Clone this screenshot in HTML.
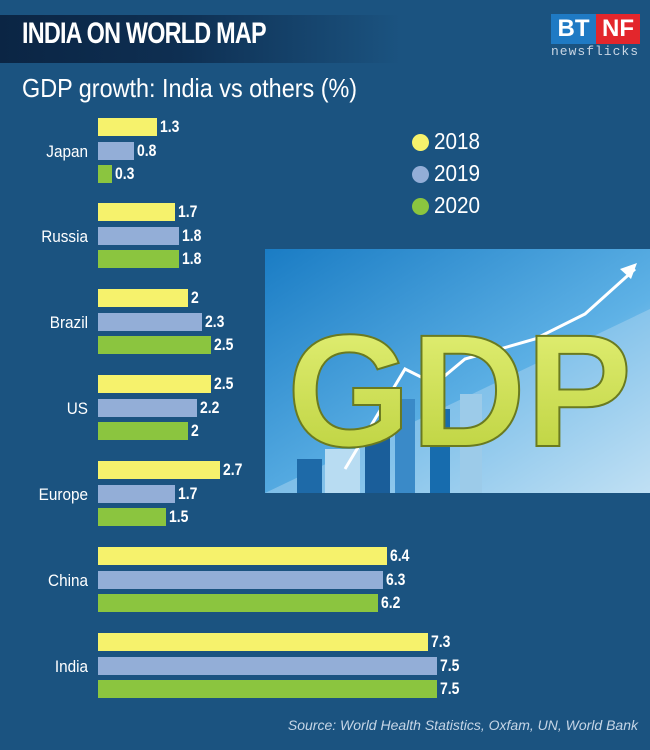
<!DOCTYPE html>
<html><head><meta charset="utf-8"><style>
body{margin:0;width:650px;height:750px;background:#1b5380;overflow:hidden;position:relative;font-family:"Liberation Sans Narrow","Liberation Sans",sans-serif;}
.abs{position:absolute}
.hdr{left:0;top:15px;width:400px;height:48px;background:linear-gradient(90deg,#0b2544 0%,#0e2f52 45%,rgba(27,83,128,0) 100%);}
.title{left:22px;top:17px;color:#fff;font-weight:bold;font-size:30px;letter-spacing:-1px;transform:scaleX(.78);transform-origin:left}
.sub{left:22px;top:73px;color:#fff;font-size:26px;transform:scaleX(.9);transform-origin:left}
.lbl{color:#fff;font-size:17px;width:80px;text-align:right;left:8px;transform:scaleX(.9);transform-origin:right}
.bar{left:98px;height:18px}
.val{color:#fff;font-weight:bold;font-size:17px;transform:scaleX(.82);transform-origin:left}
.y{background:#f6f26c}.b{background:#93aed7}.g{background:#8bc53f}
.dot{width:17px;height:17px;border-radius:50%}
.leg{color:#fff;font-size:23px;transform:scaleX(.9);transform-origin:left}
</style></head><body>
<div class="abs hdr"></div>
<div class="abs title">INDIA ON WORLD MAP</div>
<div class="abs sub">GDP growth: India vs others (%)</div>
<div class="abs" style="left:551px;top:14px;width:45px;height:30px;background:#1f7ac4;color:#fff;font:bold 24px 'Liberation Sans',sans-serif;line-height:30px;text-align:center">BT</div>
<div class="abs" style="left:596px;top:14px;width:44px;height:30px;background:#e3262c;color:#fff;font:bold 24px 'Liberation Sans',sans-serif;line-height:30px;text-align:center">NF</div>
<div class="abs" style="left:551px;top:44px;color:#c9d6e4;font:13px 'Liberation Mono',monospace;letter-spacing:1px">newsflicks</div>

<svg class="abs" style="left:265px;top:249px" width="385" height="244">
<defs><linearGradient id="bg" x1="0" y1="0" x2="1" y2="1"><stop offset="0" stop-color="#1a7cc4"/><stop offset=".6" stop-color="#5fb2e6"/><stop offset="1" stop-color="#d6ecf8"/></linearGradient>
<linearGradient id="tx" x1="0" y1="0" x2="0" y2="1"><stop offset="0" stop-color="#e6f27a"/><stop offset="1" stop-color="#b9cf3a"/></linearGradient></defs>
<rect width="385" height="244" fill="url(#bg)"/>
<polygon points="0,244 385,60 385,244" fill="#a9d4ef" opacity=".5"/>
<rect x="32" y="210" width="25" height="34" fill="#1e6aa8"/><rect x="60" y="200" width="35" height="44" fill="#b8dcf2"/>
<rect x="100" y="180" width="25" height="64" fill="#1a5e9a"/><rect x="130" y="150" width="20" height="94" fill="#3a8ac8"/>
<rect x="165" y="160" width="20" height="84" fill="#176cae"/><rect x="195" y="145" width="22" height="99" fill="#9ccbe9"/>
<polyline points="80,220 140,120 170,135 200,110 270,90 320,65 370,20" fill="none" stroke="#fff" stroke-width="3"/>
<polygon points="372,14 355,20 366,30" fill="#fff"/>
<text x="22" y="197" font-family="Liberation Sans,sans-serif" font-weight="bold" font-size="160" fill="url(#tx)" stroke="#6a7a20" stroke-width="2" textLength="345" lengthAdjust="spacingAndGlyphs">GDP</text>
</svg>

<div class="abs dot" style="left:412px;top:134px;background:#f6f26c"></div><div class="abs leg" style="left:434px;top:128px">2018</div>
<div class="abs dot" style="left:412px;top:166px;background:#93aed7"></div><div class="abs leg" style="left:434px;top:160px">2019</div>
<div class="abs dot" style="left:412px;top:198px;background:#8bc53f"></div><div class="abs leg" style="left:434px;top:192px">2020</div>

<div id="c"></div>
<script>
var d=[["Japan",118,1.3,0.8,0.3],["Russia",203,1.7,1.8,1.8],["Brazil",289,2,2.3,2.5],["US",375,2.5,2.2,2],["Europe",461,2.7,1.7,1.5],["China",547,6.4,6.3,6.2],["India",633,7.3,7.5,7.5]];
var h="";d.forEach(function(r){var t=r[1];h+='<div class="abs lbl" style="top:'+(t+24)+'px">'+r[0]+'</div>';
["y","b","g"].forEach(function(c,i){var w=Math.round(r[2+i]*45.2),y=t+i*23.5;
h+='<div class="abs bar '+c+'" style="top:'+y+'px;width:'+w+'px"></div><div class="abs val" style="left:'+(98+w+3)+'px;top:'+(y-1)+'px">'+r[2+i]+'</div>';});});
document.getElementById("c").innerHTML=h;
</script>
<div class="abs" style="right:12px;top:717px;color:#c5d5e6;font-style:italic;font-size:14px">Source: World Health Statistics, Oxfam, UN, World Bank</div>
</body></html>
